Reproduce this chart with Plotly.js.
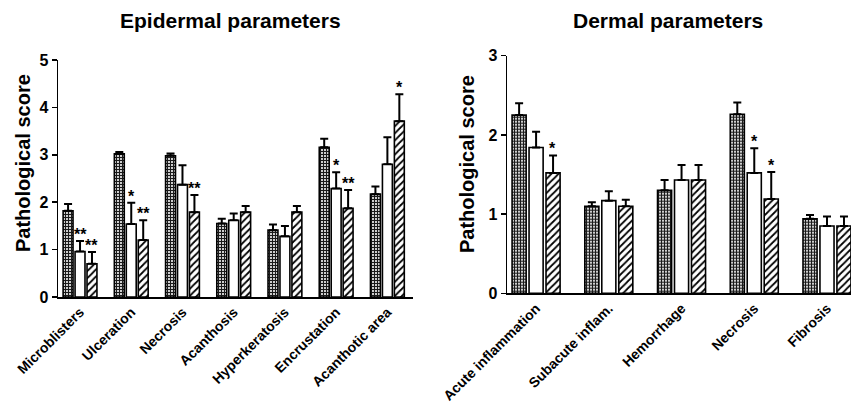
<!DOCTYPE html>
<html>
<head>
<meta charset="utf-8">
<script src="https://cdn.plot.ly/plotly-3.0.1.min.js"></script>
<style>html,body{margin:0;padding:0;background:#fff;}#chart{width:851px;height:408px;}</style>
</head>
<body>
<div id="chart"></div>
<script>
// ---- Epidermal parameters ----
const epiCategories = ["Microblisters", "Ulceration", "Necrosis", "Acanthosis", "Hyperkeratosis", "Encrustation", "Acanthotic area"];
const epiSeries1 = [1.82, 3.02, 2.98, 1.55, 1.41, 3.16, 2.17];
const epiErr1    = [0.14, 0.04, 0.05, 0.10, 0.12, 0.18, 0.16];
const epiSeries2 = [0.96, 1.54, 2.37, 1.62, 1.28, 2.29, 2.80];
const epiErr2    = [0.22, 0.45, 0.41, 0.14, 0.22, 0.34, 0.57];
const epiSeries3 = [0.70, 1.20, 1.79, 1.79, 1.79, 1.87, 3.71];
const epiErr3    = [0.25, 0.42, 0.36, 0.13, 0.13, 0.39, 0.57];
const epiSig2    = ["**", "*", "", "", "", "*", ""];
const epiSig3    = ["**", "**", "**", "", "", "**", "*"];
const epiTicks   = [0, 1, 2, 3, 4, 5];

// ---- Dermal parameters ----
const derCategories = ["Acute inflammation", "Subacute inflam.", "Hemorrhage", "Necrosis", "Fibrosis"];
const derSeries1 = [2.25, 1.10, 1.30, 2.26, 0.94];
const derErr1    = [0.15, 0.05, 0.13, 0.15, 0.05];
const derSeries2 = [1.84, 1.17, 1.43, 1.52, 0.85];
const derErr2    = [0.20, 0.12, 0.19, 0.31, 0.12];
const derSeries3 = [1.52, 1.10, 1.43, 1.19, 0.85];
const derErr3    = [0.22, 0.08, 0.19, 0.34, 0.12];
const derSig2    = ["", "", "", "*", ""];
const derSig3    = ["*", "", "", "*", ""];
const derTicks   = [0, 1, 2, 3];

const FONT = "Liberation Sans, Arial, sans-serif";
const line = {color: "#000", width: 1.6};
const stipple = {shape: "+", fgcolor: "#1a1a1a", bgcolor: "#d8d8d8", size: 3, solidity: 0.6};
const hatch = {shape: "/", fgcolor: "#000", bgcolor: "#fff", size: 5, solidity: 0.35};

function bar(cats, vals, errs, pattern, xa, ya) {
  return {
    type: "bar", x: cats, y: vals, xaxis: xa, yaxis: ya,
    marker: {color: "#fff", line: line, pattern: pattern},
    error_y: {type: "data", symmetric: false, array: errs, arrayminus: errs.map(() => 0),
              color: "#000", thickness: 2, width: 4},
    showlegend: false, hoverinfo: "skip"
  };
}
const noPat = {shape: ""};
const data = [
  bar(epiCategories, epiSeries1, epiErr1, stipple, "x", "y"),
  bar(epiCategories, epiSeries2, epiErr2, noPat, "x", "y"),
  bar(epiCategories, epiSeries3, epiErr3, hatch, "x", "y"),
  bar(derCategories, derSeries1, derErr1, stipple, "x2", "y2"),
  bar(derCategories, derSeries2, derErr2, noPat, "x2", "y2"),
  bar(derCategories, derSeries3, derErr3, hatch, "x2", "y2")
];

const annotations = [];
function addStars(sig, vals, errs, slot, xref, yref) {
  sig.forEach((s, i) => {
    if (!s) return;
    annotations.push({x: i + slot, y: vals[i] + errs[i], xref: xref, yref: yref, text: s,
      showarrow: false, xanchor: "center", yanchor: "bottom", yshift: -4,
      font: {family: FONT, size: 16, color: "#000", weight: "bold"}});
  });
}
const epiGap = 0.3, derGap = 0.31;
addStars(epiSig2, epiSeries2, epiErr2, 0, "x", "y");
addStars(epiSig3, epiSeries3, epiErr3, (1 - epiGap) / 3, "x", "y");
addStars(derSig2, derSeries2, derErr2, 0, "x2", "y2");
addStars(derSig3, derSeries3, derErr3, (1 - derGap) / 3, "x2", "y2");

// titles (pixel positions converted to paper fractions)
function pxText(text, px, py, size, angle) {
  annotations.push({text: text, x: px / 851, y: 1 - py / 408, xref: "paper", yref: "paper",
    xanchor: "center", yanchor: "middle", showarrow: false, textangle: angle || 0,
    font: {family: FONT, size: size, color: "#000", weight: "bold"}});
}
pxText("Epidermal parameters", 230, 20, 21);
pxText("Dermal parameters", 668, 20, 21);
pxText("Pathological score", 23, 163, 20, -90);
pxText("Pathological score", 467, 164, 20, -90);

const xaxisCommon = {
  type: "category", showline: true, linecolor: "#000", linewidth: 1.5,
  ticks: "", tickangle: -45, showgrid: false, zeroline: false,
  tickfont: {family: FONT, size: 14, color: "#000", weight: "bold"}, fixedrange: true
};
const yaxisCommon = {
  showline: true, linecolor: "#000", linewidth: 1.5, ticks: "outside", ticklen: 5,
  tickwidth: 1.5, tickcolor: "#000", showgrid: false, zeroline: false,
  tickfont: {family: FONT, size: 16, color: "#000", weight: "bold"}, fixedrange: true
};

const layout = {
  width: 851, height: 408,
  margin: {l: 0, r: 0, t: 0, b: 0},
  paper_bgcolor: "#fff", plot_bgcolor: "#fff",
  barmode: "group", bargap: 0.3, bargroupgap: 0.17,
  xaxis: Object.assign({}, xaxisCommon, {domain: [58 / 851, 413 / 851], range: [-0.43, 6.5], anchor: "y"}),
  yaxis: Object.assign({}, yaxisCommon, {domain: [1 - 297 / 408, 1 - 60 / 408], range: [0, 5],
    tickvals: epiTicks, anchor: "x"}),
  xaxis2: Object.assign({}, xaxisCommon, {domain: [507 / 851, 1], range: [-0.4, 4.33], anchor: "y2"}),
  yaxis2: Object.assign({}, yaxisCommon, {domain: [1 - 293.3 / 408, 1 - 55.7 / 408], range: [0, 3],
    tickvals: derTicks, anchor: "x2"}),
  annotations: annotations
};

Plotly.newPlot("chart", data, layout, {displayModeBar: false, staticPlot: true});
</script>
</body>
</html>
